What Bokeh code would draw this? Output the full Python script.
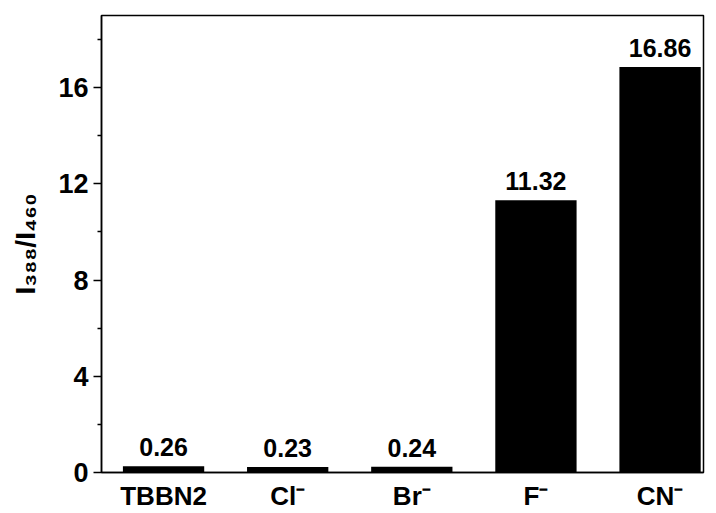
from bokeh.plotting import figure
from bokeh.models import ColumnDataSource, FixedTicker, Range1d
from bokeh.core.properties import value
from bokeh.embed import file_html
from bokeh.resources import INLINE

# Intensity ratio for the probe alone and with each anion
categories = ["TBBN2", "Cl\u207b", "Br\u207b", "F\u207b", "CN\u207b"]
ratios = [0.26, 0.23, 0.24, 11.32, 16.86]
positions = [1, 2, 3, 4, 5]
value_labels = ["%.2f" % v for v in ratios]
y_ticks = [0, 4, 8, 12, 16]
y_minor = [2, 6, 10, 14, 18]

FONT = "Liberation Sans"

src = ColumnDataSource(dict(x=positions, top=ratios, label=value_labels))

p = figure(width=716, height=513, output_backend="svg", toolbar_location=None,
           x_range=Range1d(0.5, 5.35), y_range=Range1d(0, 19))
p.min_border_left = 101
p.min_border_right = 13
p.min_border_top = 15
p.min_border_bottom = 41
p.grid.visible = False
p.background_fill_color = "white"
p.border_fill_color = "white"
p.outline_line_color = "black"
p.outline_line_width = 1.5

p.vbar(x="x", top="top", width=0.655, bottom=0, source=src,
       fill_color="black", line_color=None)

p.text(x="x", y="top", text="label", source=src, text_align="center",
       text_baseline="alphabetic", y_offset=-19, text_font=value(FONT),
       text_font_size="25px", text_font_style="bold", text_color="black")

# x axis: category names, no ticks
xa = p.xaxis[0]
xa.ticker = FixedTicker(ticks=positions)
xa.major_label_overrides = {pos: name for pos, name in zip(positions, categories)}
xa.major_tick_line_color = None
xa.minor_tick_line_color = None
xa.axis_line_width = 1.5
xa.axis_line_color = "black"
xa.major_label_text_font = FONT
xa.major_label_text_font_size = "26px"
xa.major_label_text_font_style = "bold"
xa.major_label_text_color = "black"
xa.major_label_standoff = 2

ya = p.yaxis[0]
ya.ticker = FixedTicker(ticks=y_ticks, minor_ticks=y_minor)
ya.axis_line_width = 1.5
ya.axis_line_color = "black"
ya.major_tick_in = 0
ya.major_tick_out = 8
ya.minor_tick_in = 0
ya.minor_tick_out = 4
ya.major_tick_line_width = 1.5
ya.minor_tick_line_width = 1.5
ya.major_label_text_font = FONT
ya.major_label_text_font_size = "27px"
ya.major_label_text_font_style = "bold"
ya.major_label_text_color = "black"
ya.major_label_standoff = 5
ya.axis_label = "I\u2083\u2088\u2088/I\u2084\u2086\u2080"
ya.axis_label_text_font = FONT
ya.axis_label_text_font_size = "28px"
ya.axis_label_text_font_style = "bold"
ya.axis_label_text_color = "black"
ya.axis_label_standoff = 14

open("out.html", "w").write(file_html(p, INLINE))
